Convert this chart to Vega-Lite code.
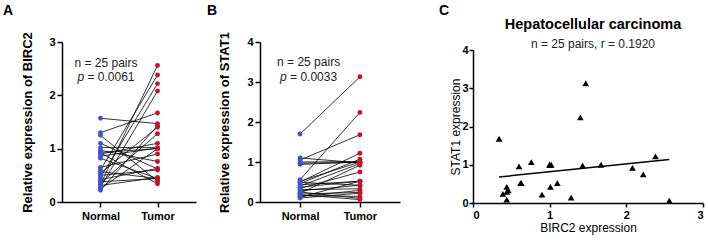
{
  "$schema": "https://vega.github.io/schema/vega-lite/v6.json",
  "background": "white",
  "padding": {"left": 3, "top": 3, "right": 2, "bottom": 2},
  "config": {
    "font": "Liberation Sans",
    "view": {"stroke": null},
    "axis": {"domainColor": "black", "domainWidth": 1.5, "tickColor": "black", "tickWidth": 1.5, "tickSize": 5, "labelFontSize": 11, "labelFontWeight": "bold", "labelColor": "black", "labelFont": "Liberation Sans", "titleFont": "Liberation Sans", "titleColor": "black", "grid": false, "labelPadding": 2, "labelOverlap": false},
    "title": {"font": "Liberation Sans", "color": "black"}
  },
  "datasets": {
    "pairs": [
      {"id": 1, "group": "Normal", "birc2": 0.92, "stat1": 1.05}, {"id": 1, "group": "Tumor", "birc2": 0.34, "stat1": 1.68},
      {"id": 2, "group": "Normal", "birc2": 1.25, "stat1": 0.20}, {"id": 2, "group": "Tumor", "birc2": 0.39, "stat1": 0.24},
      {"id": 3, "group": "Normal", "birc2": 0.57, "stat1": 0.49}, {"id": 3, "group": "Tumor", "birc2": 0.44, "stat1": 0.42},
      {"id": 4, "group": "Normal", "birc2": 0.82, "stat1": 0.14}, {"id": 4, "group": "Tumor", "birc2": 0.44, "stat1": 0.29},
      {"id": 5, "group": "Normal", "birc2": 0.38, "stat1": 0.25}, {"id": 5, "group": "Tumor", "birc2": 0.44, "stat1": 0.09},
      {"id": 6, "group": "Normal", "birc2": 0.31, "stat1": 0.31}, {"id": 6, "group": "Tumor", "birc2": 0.46, "stat1": 0.33},
      {"id": 7, "group": "Normal", "birc2": 0.50, "stat1": 0.40}, {"id": 7, "group": "Tumor", "birc2": 0.60, "stat1": 0.96},
      {"id": 8, "group": "Normal", "birc2": 1.10, "stat1": 0.12}, {"id": 8, "group": "Tumor", "birc2": 0.62, "stat1": 0.52},
      {"id": 9, "group": "Normal", "birc2": 0.42, "stat1": 0.43}, {"id": 9, "group": "Tumor", "birc2": 0.63, "stat1": 0.52},
      {"id": 10, "group": "Normal", "birc2": 0.97, "stat1": 0.46}, {"id": 10, "group": "Tumor", "birc2": 0.76, "stat1": 1.07},
      {"id": 11, "group": "Normal", "birc2": 0.65, "stat1": 0.10}, {"id": 11, "group": "Tumor", "birc2": 0.90, "stat1": 0.22},
      {"id": 12, "group": "Normal", "birc2": 0.93, "stat1": 1.00}, {"id": 12, "group": "Tumor", "birc2": 1.00, "stat1": 1.01},
      {"id": 13, "group": "Normal", "birc2": 0.25, "stat1": 0.97}, {"id": 13, "group": "Tumor", "birc2": 1.00, "stat1": 0.99},
      {"id": 14, "group": "Normal", "birc2": 0.86, "stat1": 0.28}, {"id": 14, "group": "Tumor", "birc2": 1.01, "stat1": 0.42},
      {"id": 15, "group": "Normal", "birc2": 1.02, "stat1": 0.94}, {"id": 15, "group": "Tumor", "birc2": 1.02, "stat1": 1.00},
      {"id": 16, "group": "Normal", "birc2": 0.90, "stat1": 0.37}, {"id": 16, "group": "Tumor", "birc2": 1.10, "stat1": 0.52},
      {"id": 17, "group": "Normal", "birc2": 0.35, "stat1": 0.16}, {"id": 17, "group": "Tumor", "birc2": 1.28, "stat1": 0.14},
      {"id": 18, "group": "Normal", "birc2": 0.54, "stat1": 0.56}, {"id": 18, "group": "Tumor", "birc2": 1.40, "stat1": 2.24},
      {"id": 19, "group": "Normal", "birc2": 0.22, "stat1": 1.10}, {"id": 19, "group": "Tumor", "birc2": 1.43, "stat1": 0.98},
      {"id": 20, "group": "Normal", "birc2": 1.57, "stat1": 1.70}, {"id": 20, "group": "Tumor", "birc2": 1.47, "stat1": 3.13},
      {"id": 21, "group": "Normal", "birc2": 1.30, "stat1": 0.52}, {"id": 21, "group": "Tumor", "birc2": 1.67, "stat1": 1.00},
      {"id": 22, "group": "Normal", "birc2": 0.28, "stat1": 0.22}, {"id": 22, "group": "Tumor", "birc2": 2.08, "stat1": 0.92},
      {"id": 23, "group": "Normal", "birc2": 0.46, "stat1": 0.34}, {"id": 23, "group": "Tumor", "birc2": 2.22, "stat1": 0.75},
      {"id": 24, "group": "Normal", "birc2": 0.60, "stat1": 0.50}, {"id": 24, "group": "Tumor", "birc2": 2.38, "stat1": 1.22},
      {"id": 25, "group": "Normal", "birc2": 0.33, "stat1": 0.18}, {"id": 25, "group": "Tumor", "birc2": 2.56, "stat1": 0.06}
    ],
    "fit": [
      {"birc2": 0.34, "stat1": 0.68},
      {"birc2": 2.56, "stat1": 1.14}
    ]
  },
  "bounds": "flush",
  "spacing": 64,
  "hconcat": [
    {
      "width": 134, "height": 160,
      "title": {"text": "A", "anchor": "start", "frame": "group", "dx": -59, "fontSize": 14, "fontWeight": "bold", "baseline": "bottom", "offset": 0},
      "data": {"name": "pairs"},
      "layer": [
        {"mark": {"type": "line", "color": "black", "strokeWidth": 0.8},
         "encoding": {
           "x": {"field": "group", "type": "nominal", "scale": {"type": "point", "padding": 0.675}, "axis": {"title": null, "labelAngle": 0, "labelPadding": 3}},
           "y": {"field": "birc2", "type": "quantitative", "scale": {"domain": [0, 3]}, "axis": {"values": [0, 1, 2, 3], "format": "d", "labelOverlap": false, "title": "Relative expression of BIRC2", "titleFontSize": 13, "titleFontWeight": "bold", "titlePadding": 14}},
           "detail": {"field": "id"}}},
        {"mark": {"type": "circle", "size": 24, "opacity": 1},
         "encoding": {
           "x": {"field": "group", "type": "nominal"},
           "y": {"field": "birc2", "type": "quantitative"},
           "color": {"field": "group", "type": "nominal", "scale": {"domain": ["Normal", "Tumor"], "range": ["#3d55c6", "#c4122f"]}, "legend": null}}},
        {"data": {"values": [{}]}, "mark": {"type": "text", "align": "left", "baseline": "alphabetic", "fontSize": 12, "dx": -26, "color": "#222"},
         "encoding": {"x": {"datum": "Normal"}, "y": {"datum": 2.53}, "text": {"value": "n = 25 pairs"}}},
        {"data": {"values": [{}]}, "mark": {"type": "text", "align": "left", "baseline": "alphabetic", "fontSize": 12, "fontStyle": "italic", "dx": -23, "color": "#222"},
         "encoding": {"x": {"datum": "Normal"}, "y": {"datum": 2.26}, "text": {"value": "p"}}},
        {"data": {"values": [{}]}, "mark": {"type": "text", "align": "left", "baseline": "alphabetic", "fontSize": 12, "dx": -13, "color": "#222"},
         "encoding": {"x": {"datum": "Normal"}, "y": {"datum": 2.26}, "text": {"value": "= 0.0061"}}}
      ]
    },
    {
      "width": 149, "height": 160,
      "title": {"text": "B", "anchor": "start", "frame": "group", "dx": -53, "fontSize": 14, "fontWeight": "bold", "baseline": "bottom", "offset": 0},
      "data": {"name": "pairs"},
      "layer": [
        {"mark": {"type": "line", "color": "black", "strokeWidth": 0.8},
         "encoding": {
           "x": {"field": "group", "type": "nominal", "scale": {"type": "point", "padding": 0.67, "range": [0, 140]}, "axis": {"title": null, "labelAngle": 0, "labelPadding": 3}},
           "y": {"field": "stat1", "type": "quantitative", "scale": {"domain": [0, 4]}, "axis": {"values": [0, 1, 2, 3, 4], "format": "d", "labelOverlap": false, "tickCount": 5, "title": "Relative expression of STAT1", "titleFontSize": 13, "titleFontWeight": "bold", "titlePadding": 15}},
           "detail": {"field": "id"}}},
        {"mark": {"type": "circle", "size": 24, "opacity": 1},
         "encoding": {
           "x": {"field": "group", "type": "nominal"},
           "y": {"field": "stat1", "type": "quantitative"},
           "color": {"field": "group", "type": "nominal", "scale": {"domain": ["Normal", "Tumor"], "range": ["#3d55c6", "#c4122f"]}, "legend": null}}},
        {"data": {"values": [{}]}, "mark": {"type": "text", "align": "left", "baseline": "alphabetic", "fontSize": 12, "dx": -23, "color": "#222"},
         "encoding": {"x": {"datum": "Normal"}, "y": {"datum": 3.4}, "text": {"value": "n = 25 pairs"}}},
        {"data": {"values": [{}]}, "mark": {"type": "text", "align": "left", "baseline": "alphabetic", "fontSize": 12, "fontStyle": "italic", "dx": -20, "color": "#222"},
         "encoding": {"x": {"datum": "Normal"}, "y": {"datum": 3.02}, "text": {"value": "p"}}},
        {"data": {"values": [{}]}, "mark": {"type": "text", "align": "left", "baseline": "alphabetic", "fontSize": 12, "dx": -10, "color": "#222"},
         "encoding": {"x": {"datum": "Normal"}, "y": {"datum": 3.02}, "text": {"value": "= 0.0033"}}}
      ]
    },
    {
      "width": 230, "height": 161,
      "title": {"text": "Hepatocellular carcinoma", "subtitle": "n = 25 pairs, r = 0.1920", "anchor": "middle", "frame": "group", "dx": 5, "fontSize": 14.5, "fontWeight": "bold", "subtitleFont": "Liberation Sans", "subtitleFontSize": 12, "subtitleColor": "#222", "subtitlePadding": 6, "offset": -46.5},
      "layer": [
        {"data": {"name": "pairs"},
         "transform": [{"filter": "datum.group === 'Tumor'"}],
         "mark": {"type": "point", "shape": "triangle-up", "filled": true, "color": "black", "size": 45, "opacity": 1},
         "encoding": {
           "x": {"field": "birc2", "type": "quantitative", "scale": {"domain": [0, 3]}, "axis": {"values": [0, 1, 2, 3], "format": "d", "labelOverlap": false, "title": "BIRC2 expression", "titleFontSize": 12, "titleFontWeight": "normal", "titlePadding": 2, "tickSize": 4}},
           "y": {"field": "stat1", "type": "quantitative", "scale": {"domain": [0, 4], "range": [161, 8]}, "axis": {"values": [0, 1, 2, 3, 4], "format": "d", "labelOverlap": false, "title": "STAT1 expression", "titleFontSize": 12, "titleFontWeight": "normal", "titlePadding": -1, "labelPadding": 1, "tickSize": 4}}}},
        {"data": {"name": "fit"},
         "mark": {"type": "line", "color": "black", "strokeWidth": 1.5},
         "encoding": {
           "x": {"field": "birc2", "type": "quantitative"},
           "y": {"field": "stat1", "type": "quantitative"}}},
        {"data": {"values": [{}]},
         "mark": {"type": "text", "align": "left", "baseline": "alphabetic", "fontSize": 14, "fontWeight": "bold", "color": "black"},
         "encoding": {"x": {"datum": -0.443}, "y": {"datum": 4.915}, "text": {"value": "C"}}}
      ]
    }
  ]
}
